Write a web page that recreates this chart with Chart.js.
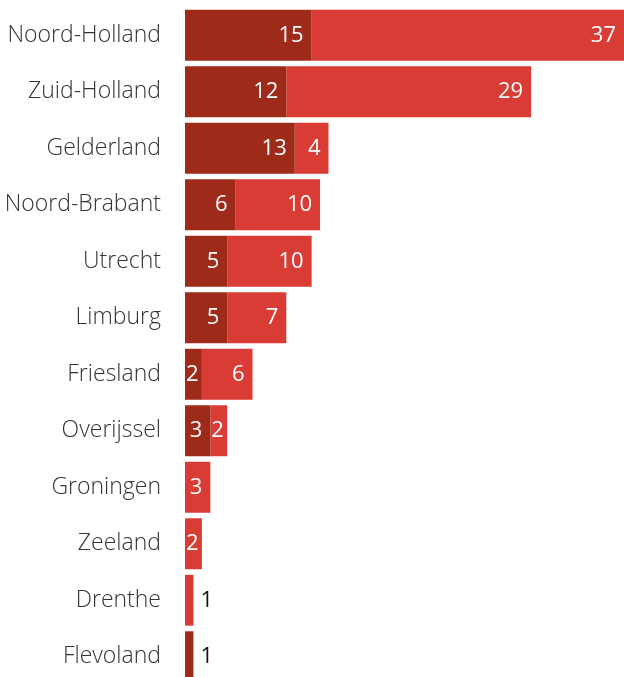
<!DOCTYPE html>
<html>
<head>
<meta charset="utf-8">
<script src="https://cdn.jsdelivr.net/npm/chart.js@4"></script>
<style>
  html, body { margin: 0; padding: 0; background: #fff; overflow: hidden; }
  #wrap { position: relative; width: 624px; height: 686px; }
</style>
</head>
<body>
<div id="wrap"><canvas id="chart"></canvas></div>
<script>
const provinces = ['Noord-Holland', 'Zuid-Holland', 'Gelderland', 'Noord-Brabant', 'Utrecht', 'Limburg',
  'Friesland', 'Overijssel', 'Groningen', 'Zeeland', 'Drenthe', 'Flevoland'];
const darkValues = [15, 12, 13, 6, 5, 5, 2, 3, 0, 0, 0, 1];
const lightValues = [37, 29, 4, 10, 10, 7, 6, 2, 3, 2, 1, 0];

const DARK = '#9e2b1a';
const LIGHT = '#d93b35';
const FONT = '"Open Sans", sans-serif';

// value labels: inside the bar end, or next to it when the bar is too thin
const valueLabels = {
  id: 'valueLabels',
  afterDatasetsDraw(chart) {
    const ctx = chart.ctx;
    ctx.save();
    ctx.font = '22px ' + FONT;
    ctx.textBaseline = 'middle';
    ctx.textAlign = 'left';
    chart.data.datasets.forEach((ds, di) => {
      const meta = chart.getDatasetMeta(di);
      meta.data.forEach((bar, i) => {
        const v = ds.data[i];
        if (!v) return;
        const text = String(v);
        const w = ctx.measureText(text).width;
        const left = Math.min(bar.base, bar.x);
        const right = Math.max(bar.base, bar.x);
        if (right - left < w + 4) {
          ctx.fillStyle = '#111';
          ctx.fillText(text, right + 7, bar.y);
        } else {
          ctx.fillStyle = '#fff';
          const x = Math.max(left + 1, right - 8 - w);
          ctx.fillText(text, x, bar.y);
        }
      });
    });
    ctx.restore();
  }
};

new Chart(document.getElementById('chart'), {
  type: 'bar',
  data: {
    labels: provinces,
    datasets: [
      { data: darkValues, backgroundColor: DARK, barPercentage: 0.9, categoryPercentage: 1 },
      { data: lightValues, backgroundColor: LIGHT, barPercentage: 0.9, categoryPercentage: 1 }
    ]
  },
  options: {
    indexAxis: 'y',
    responsive: true,
    maintainAspectRatio: false,
    animation: false,
    layout: { padding: { top: 7, right: 0, bottom: 1, left: 0 } },
    plugins: {
      legend: { display: false },
      tooltip: { enabled: false }
    },
    scales: {
      x: {
        stacked: true,
        display: false,
        min: 0,
        max: 52
      },
      y: {
        stacked: true,
        grid: { display: false, drawTicks: false },
        border: { display: false },
        afterFit(scale) {
          scale.width = 185;
          scale.paddingTop = 0;
          scale.paddingBottom = 0;
        },
        ticks: {
          padding: 24,
          color: '#333',
          font: { family: FONT, size: 23, weight: '300' }
        }
      }
    }
  },
  plugins: [valueLabels]
});
</script>
</body>
</html>
